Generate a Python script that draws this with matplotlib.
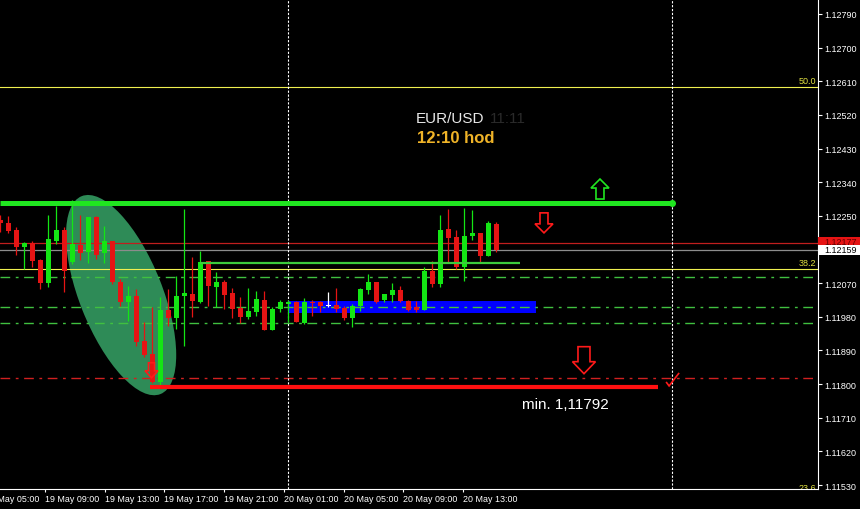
import matplotlib
matplotlib.use("Agg")
import matplotlib.pyplot as plt
import matplotlib.transforms as mtransforms
from matplotlib.patches import Ellipse, Polygon, Rectangle
import numpy as np

plt.rcParams['font.family'] = ['Liberation Sans', 'DejaVu Sans']

# EUR/USD M30 bars (oldest first)
opens = [1.12239, 1.12231, 1.12212, 1.12167, 1.12177, 1.12132, 1.12070, 1.12183, 1.12212, 1.12127,
         1.12172, 1.12153, 1.12247, 1.12151, 1.12183, 1.12073, 1.12020, 1.12036, 1.11916, 1.11881,
         1.11806, 1.11998, 1.11977, 1.12036, 1.12041, 1.12020, 1.12129, 1.12060, 1.12073, 1.12044,
         1.12004, 1.11980, 1.11993, 1.12025, 1.11945, 1.12001, 1.12014, 1.12020, 1.11964, 1.12020,
         1.12020, 1.12009, 1.12012, 1.12004, 1.11977, 1.12009, 1.12052, 1.12073, 1.12025, 1.12038,
         1.12052, 1.12022, 1.12006, 1.11998, 1.12102, 1.12068, 1.12215, 1.12194, 1.12113, 1.12196,
         1.12204, 1.12143, 1.12228]
highs = [1.12252, 1.12250, 1.12220, 1.12180, 1.12183, 1.12135, 1.12252, 1.12276, 1.12220, 1.12292,
         1.12252, 1.12247, 1.12250, 1.12223, 1.12183, 1.12081, 1.12062, 1.12054, 1.11966, 1.12006,
         1.12033, 1.12054, 1.12089, 1.12268, 1.12140, 1.12156, 1.12129, 1.12100, 1.12078, 1.12057,
         1.12033, 1.12057, 1.12049, 1.12049, 1.12006, 1.12025, 1.12025, 1.12022, 1.12030, 1.12025,
         1.12022, 1.12046, 1.12057, 1.12009, 1.12014, 1.12057, 1.12094, 1.12073, 1.12041, 1.12070,
         1.12062, 1.12025, 1.12022, 1.12113, 1.12129, 1.12252, 1.12268, 1.12212, 1.12271, 1.12266,
         1.12204, 1.12236, 1.12234]
lows = [1.12207, 1.12204, 1.12145, 1.12108, 1.12113, 1.12054, 1.12060, 1.12175, 1.12046, 1.12121,
        1.12132, 1.12124, 1.12135, 1.12124, 1.12068, 1.12009, 1.11969, 1.11903, 1.11873, 1.11804,
        1.11792, 1.11956, 1.11948, 1.11903, 1.11980, 1.12017, 1.12009, 1.12006, 1.12001, 1.11977,
        1.11964, 1.11974, 1.11982, 1.11945, 1.11945, 1.11993, 1.11966, 1.11966, 1.11961, 1.11982,
        1.11993, 1.12006, 1.11993, 1.11972, 1.11953, 1.11996, 1.12041, 1.12017, 1.12020, 1.12020,
        1.12020, 1.11996, 1.11993, 1.11998, 1.12060, 1.12060, 1.12127, 1.12108, 1.12076, 1.12185,
        1.12127, 1.12143, 1.12153]
closes = [1.12231, 1.12209, 1.12167, 1.12177, 1.12129, 1.12070, 1.12188, 1.12212, 1.12102, 1.12175,
          1.12151, 1.12247, 1.12145, 1.12183, 1.12073, 1.12020, 1.12036, 1.11913, 1.11879, 1.11806,
          1.11998, 1.11977, 1.12036, 1.12044, 1.12022, 1.12127, 1.12062, 1.12073, 1.12038, 1.12001,
          1.11980, 1.11996, 1.12028, 1.11945, 1.12001, 1.12020, 1.12020, 1.11966, 1.12020, 1.12017,
          1.12009, 1.12009, 1.12001, 1.11977, 1.12009, 1.12054, 1.12073, 1.12020, 1.12041, 1.12052,
          1.12022, 1.11998, 1.11998, 1.12102, 1.12068, 1.12212, 1.12191, 1.12113, 1.12196, 1.12204,
          1.12143, 1.12231, 1.12159]

time_labels = ["19 May 05:00", "19 May 09:00", "19 May 13:00", "19 May 17:00", "19 May 21:00",
               "20 May 01:00", "20 May 05:00", "20 May 09:00", "20 May 13:00"]
price_ticks = [1.12790, 1.12700, 1.12610, 1.12520, 1.12430, 1.12340, 1.12250, 1.12160,
               1.12070, 1.11980, 1.11890, 1.11800, 1.11710, 1.11620, 1.11530]

# levels / objects drawn on the chart
resistance = 1.12284
minimum = 1.11792
alert_level = 1.12177
bid = 1.12159
fib_names = ["50.0", "38.2", "23.6"]
fib_levels = [1.12595, 1.12108, 1.11505]
green_dashdot = [1.12086, 1.12006, 1.11963]
red_dashdot = 1.11816
green_level = 1.12124
zone_low, zone_high = 1.11990, 1.12022
separators = [36, 84]

PX = 8.0  # pixels per bar
fig = plt.figure(figsize=(8.6, 5.1), dpi=100, facecolor='black')
ax = fig.add_axes([0, 20 / 510, 818 / 860, 490 / 510])
ax.set_facecolor('black')
ax.set_xlim(-0.3 / PX, (818 - 0.3) / PX)
ax.set_ylim(1.115193, 1.128301)
px_price = (1.128301 - 1.115193) / 490


def px_trans(x, y):
    # shapes given in pixels, anchored at a data point
    return (mtransforms.Affine2D().scale(1 / 100) + fig.dpi_scale_trans +
            mtransforms.ScaledTranslation(x, y, ax.transData))


# ellipse highlight
ax.add_patch(Ellipse((0, 0), 83, 213, angle=21.7, facecolor='#2e8b57', edgecolor='none',
                     transform=px_trans(15.1, 1.12038), zorder=1))

# blue zone
ax.add_patch(Rectangle((36.1, zone_low), 30.9, zone_high - zone_low, facecolor='#0000ff',
                       edgecolor='none', zorder=1))

# horizontal lines
for lv in fib_levels:
    ax.axhline(lv, color='#f0f050', lw=0.8, zorder=2)
for lv in green_dashdot:
    ax.axhline(lv, color='#40c040', lw=1.0, dashes=(7, 4, 2, 4), zorder=2)
ax.axhline(red_dashdot, color='#d02020', lw=1.0, dashes=(7, 4, 2, 4), zorder=2)
ax.axhline(alert_level, color='#c01e1e', lw=0.9, zorder=2)
ax.axhline(bid, color='#8c8c8c', lw=0.9, zorder=2)
for s in separators:
    ax.axvline(s, color='white', lw=0.8, dashes=(2, 1.5), zorder=2)

# candles
x = np.arange(len(opens))
o = np.array(opens)
c = np.array(closes)
cols = np.where(c > o, '#14e614', np.where(c < o, '#e61414', '#ffffff'))
ax.vlines(x, lows, highs, colors=cols, lw=0.9, zorder=3)
body = np.maximum(np.abs(c - o), px_price)
ax.bar(x, body, bottom=np.minimum(o, c), width=5 / PX, color=cols, zorder=3)

# trend objects
ax.plot([0, 84], [resistance, resistance], color='#20e620', lw=3.6, zorder=4,
        solid_capstyle='butt')
ax.plot([84], [resistance], 'o', color='#20e620', ms=4, zorder=4)
ax.plot([18.75, 82.2], [minimum, minimum], color='#ff1010', lw=3.0, zorder=4,
        solid_capstyle='butt')
ax.plot([25, 65], [green_level, green_level], color='#3ccc3c', lw=1.6, zorder=4,
        solid_capstyle='butt')


def arrow_pts(w, h, head, shaft, down):
    pts = [(-shaft / 2, 0), (-shaft / 2, h - head), (-w / 2, h - head), (0, h),
           (w / 2, h - head), (shaft / 2, h - head), (shaft / 2, 0)]
    if down:
        pts = [(a, -b) for a, b in pts]
    return pts


arrows = [(74.96, 1.12295, 18, 20, 9, 8, False, '#20e620'),
          (67.96, 1.12258, 18, 20, 9, 8, True, '#ff1a1a'),
          (72.96, 1.11900, 23, 27, 12, 12, True, '#ff1a1a'),
          (18.9, 1.11857, 13, 15, 7, 6, True, '#ff1a1a')]
for ax_x, ax_y, w, h, head, shaft, down, col in arrows:
    ax.add_patch(Polygon(arrow_pts(w, h, head, shaft, down), closed=True, fill=False,
                         edgecolor=col, lw=1.2, transform=px_trans(ax_x, ax_y), zorder=5))
ax.add_patch(Polygon([(-3, 4), (0, 0), (10, 13)], closed=False, fill=False,
                     edgecolor='#ff1a1a', lw=1.2, transform=px_trans(83.6, 1.11795), zorder=5))

# texts
ax.text(416 / 818, 1 - 119 / 490, "EUR/USD", transform=ax.transAxes, color='#e8e8e8',
        fontsize=11, va='center', ha='left')
ax.text(490 / 818, 1 - 119 / 490, "11:11", transform=ax.transAxes, color='#2a2a2a',
        fontsize=11, va='center', ha='left')
ax.text(417 / 818, 1 - 138.5 / 490, "12:10 hod", transform=ax.transAxes, color='#f0b428',
        fontsize=12, fontweight='bold', va='center', ha='left')
ax.text(522 / 818, 1 - 405 / 490, "min. 1,11792", transform=ax.transAxes, color='white',
        fontsize=11, va='center', ha='left')

blend = mtransforms.blended_transform_factory(ax.transAxes, ax.transData)
up2 = mtransforms.ScaledTranslation(0, 2 / 100, fig.dpi_scale_trans)
for name, lv in zip(fib_names, fib_levels):
    ax.text(816 / 818, lv, name, transform=blend + up2, color='#e0e040', fontsize=6.5,
            ha='right', va='bottom', clip_on=True)

# axes styling
for side in ['top', 'left']:
    ax.spines[side].set_visible(False)
for side in ['right', 'bottom']:
    ax.spines[side].set_color('white')
    ax.spines[side].set_linewidth(0.8)

ax.yaxis.tick_right()
ax.set_yticks(price_ticks)
ax.set_yticklabels([f"{v:.5f}" for v in price_ticks])
ax.tick_params(axis='y', colors='white', labelsize=6.5, length=3, width=0.8, pad=1.5)

tick_pos = [-1.91 + 7.47 * i for i in range(len(time_labels))]
ax.set_xticks(tick_pos[1:])
ax.set_xticklabels(time_labels[1:])
for lbl in ax.get_xticklabels():
    lbl.set_ha('left')
ax.tick_params(axis='x', colors='white', labelsize=6.4, length=2.2, width=0.8, pad=1.5)
first = mtransforms.blended_transform_factory(ax.transData, ax.transAxes)
ax.text(tick_pos[0], 0, time_labels[0], transform=first + mtransforms.ScaledTranslation(
    0, -3.5 / 72, fig.dpi_scale_trans), color='white', fontsize=6.4, ha='left', va='top',
    clip_on=False)

# price labels on the axis
up_shift = mtransforms.ScaledTranslation(0, 1.5 / 100, fig.dpi_scale_trans)
box_h = 9.5 * px_price
ax.add_patch(Rectangle((1.0, alert_level - box_h / 2), 42 / 818, box_h,
                       transform=blend + up_shift, facecolor='#e61414', edgecolor='none',
                       clip_on=False, zorder=6))
ax.text(1.0 + 6 / 818, alert_level, f"{alert_level:.5f}", transform=blend + up_shift,
        color='#600000', fontsize=6.5, va='center', ha='left', clip_on=False, zorder=7)
ax.add_patch(Rectangle((1.0, bid - box_h / 2), 42 / 818, box_h, transform=blend,
                       facecolor='white', edgecolor='none', clip_on=False, zorder=8))
ax.text(1.0 + 6 / 818, bid, f"{bid:.5f}", transform=blend, color='black',
        fontsize=6.5, va='center', ha='left', clip_on=False, zorder=9)

fig.savefig('out.png', dpi=100, facecolor='black')
